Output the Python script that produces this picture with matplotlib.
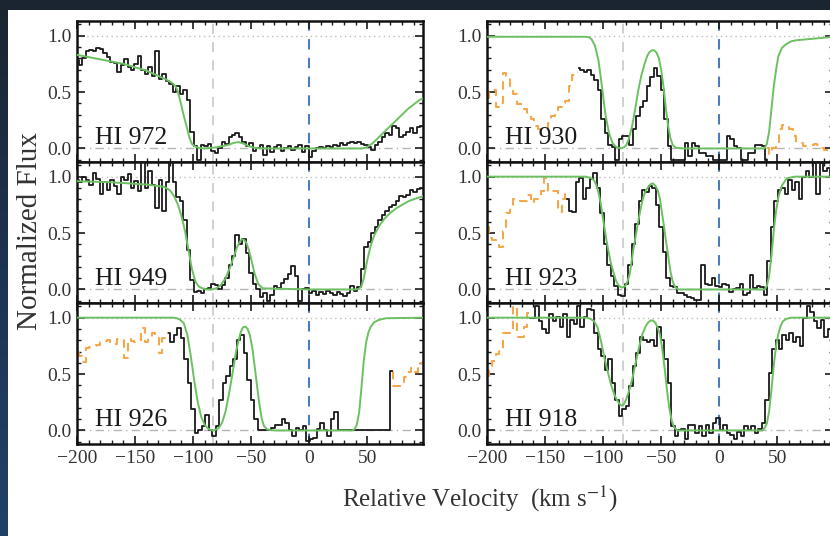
import numpy as np
import matplotlib
matplotlib.use("Agg")
import matplotlib.pyplot as plt
from matplotlib.patches import Rectangle
from matplotlib.colors import LinearSegmentedColormap
from matplotlib.ticker import MultipleLocator

plt.rcParams['font.family'] = ['Liberation Serif', 'DejaVu Serif']
plt.rcParams['mathtext.fontset'] = 'stix'

STEP = 3.0
GRAY_V = -82.5

# ---------------- panel labels ----------------
labels = ["HI 972", "HI 949", "HI 926", "HI 930", "HI 923", "HI 918"]

# ---------------- HI 972 ----------------
d1_v0 = -200
d1_f = [0.78, 0.74, 0.80, 0.86, 0.87, 0.86, 0.89, 0.88, 0.85, 0.81, 0.77, 0.76, 0.68, 0.74, 0.79,
        0.72, 0.70, 0.75, 0.82, 0.70, 0.66, 0.72, 0.64, 0.86, 0.62, 0.66, 0.60, 0.57, 0.50, 0.55,
        0.48, 0.52, 0.43, 0.15, 0.02, -0.10, 0.03, 0.02, 0.04, -0.02, -0.04, 0.00, 0.06, 0.04, 0.10,
        0.12, 0.14, 0.10, 0.06, 0.02, 0.05, -0.02, 0.00, 0.03, -0.06, 0.02, -0.03, 0.01, 0.03, -0.02,
        0.00, 0.02, -0.01, 0.01, 0.03, -0.03, 0.02, -0.08, -0.02, 0.00, 0.01, 0.00, 0.02, 0.01, 0.03,
        0.02, 0.05, 0.03, 0.05, 0.06, 0.05, 0.06, 0.04, 0.03, 0.01, -0.01, 0.03, 0.06, 0.10, 0.14,
        0.12, 0.20, 0.18, 0.10, 0.12, 0.15, 0.18, 0.14, 0.19, 0.20]
m1_v = [-200, -180, -160, -140, -123, -118, -115, -113, -111, -109, -107, -105, -103, -101, -98, -95,
        -90, -80, -70, -65, -61, -57, -52, -47, -40, 0, 45, 48, 51, 55, 60, 65, 70, 75, 80, 85, 90,
        95, 99]
m1_f = [0.83, 0.79, 0.75, 0.69, 0.61, 0.58, 0.55, 0.50, 0.42, 0.33, 0.25, 0.17, 0.09, 0.04, 0.015,
        0.005, 0.0, 0.01, 0.03, 0.05, 0.056, 0.045, 0.02, 0.005, 0.0, 0.0, 0.0, 0.004, 0.02, 0.05, 0.10,
        0.15, 0.20, 0.25, 0.30, 0.35, 0.39, 0.43, 0.45]

# ---------------- HI 949 ----------------
d2_v0 = -200
d2_f = [0.97, 0.95, 1.00, 0.97, 0.93, 1.03, 0.98, 0.85, 0.95, 0.88, 0.97, 0.92, 0.85, 1.00, 0.97,
        1.02, 0.90, 0.96, 0.87, 1.13, 0.90, 1.05, 0.93, 0.72, 0.97, 0.70, 0.95, 1.13, 0.95, 0.82,
        0.78, 0.62, 0.35, 0.08, -0.02, -0.01, -0.03, 0.00, 0.01, 0.05, 0.04, 0.00, 0.04, 0.10, 0.22,
        0.30, 0.48, 0.40, 0.45, 0.32, 0.15, 0.05, 0.00, -0.07, -0.03, -0.10, -0.05, 0.03, 0.01, 0.06,
        0.09, 0.14, 0.21, 0.12, -0.10, 0.00, 0.01, -0.03, -0.01, -0.05, -0.02, -0.04, -0.01, -0.03, -0.05,
        -0.02, -0.04, -0.06, -0.03, 0.03, -0.01, 0.02, 0.18, 0.38, 0.42, 0.50, 0.55, 0.62, 0.66, 0.70,
        0.73, 0.75, 0.78, 0.83, 0.82, 0.84, 0.88, 0.86, 0.89, 0.90]
m2_v = [-200, -170, -140, -125, -120, -116, -113, -110, -107, -104, -101, -98, -95, -92, -88, -84,
        -80, -76, -72, -68, -65, -62, -60, -58, -56, -54, -52, -50, -47, -44, -40, 0, 40, 43, 45, 47,
        50, 53, 56, 60, 65, 70, 75, 80, 85, 90, 99]
m2_f = [0.96, 0.95, 0.93, 0.91, 0.88, 0.82, 0.75, 0.65, 0.52, 0.35, 0.18, 0.07, 0.025, 0.01, 0.0,
        0.0, 0.01, 0.04, 0.10, 0.20, 0.29, 0.38, 0.42, 0.445, 0.44, 0.41, 0.35, 0.27, 0.14, 0.05, 0.01,
        0.0, 0.0, 0.005, 0.03, 0.10, 0.26, 0.39, 0.48, 0.56, 0.63, 0.68, 0.72, 0.75, 0.78, 0.80, 0.83]

# ---------------- HI 926 ----------------
d3_v0 = -121
d3_f = [0.86, 0.78, 0.85, 0.91, 0.82, 0.63, 0.42, 0.19, -0.02, 0.00, 0.04, 0.14, 0.00, -0.05, 0.04,
        0.27, 0.42, 0.48, 0.57, 0.63, 0.80, 0.85, 0.69, 0.45, 0.27, 0.10, 0.00, 0.00, 0.00, 0.00,
        0.02, 0.05, 0.05, 0.10, 0.07, 0.00, -0.05, 0.02, 0.00, 0.04, -0.09, -0.08, -0.07, 0.01, 0.07,
        0.00, -0.05, 0.10, 0.16, 0.00, 0.00, 0.00, 0.00, 0.00, 0.00, 0.00, 0.00, 0.00, 0.00, 0.00,
        0.00, 0.00, 0.00, 0.00, 0.53]
o3a_v0 = -200
o3a_f = [0.69, 0.66, 0.61, 0.73, 0.74, 0.75, 0.76, 0.78, 0.79, 0.80, 0.78, 0.77, 0.81, 0.80, 0.64,
         0.81, 0.79, 0.78, 0.80, 0.91, 0.78, 0.82, 0.86, 0.84, 0.69, 0.82, 0.86]
o3b_v0 = 71
o3b_f = [0.52, 0.39, 0.39, 0.39, 0.47, 0.52, 0.55, 0.52, 0.56, 0.60]
m3_v = [-200, -117, -114, -111, -108, -105, -102, -99, -96, -93, -90, -87, -85, -83, -81, -78, -75,
        -72, -69, -66, -63, -61, -59, -57, -55, -53, -51, -49, -47, -45, -43, -41, -39, -36, -30, 0,
        37, 39, 41, 43, 45, 47, 49, 51, 53, 56, 60, 66, 99]
m3_f = [1.0, 1.0, 0.995, 0.98, 0.95, 0.85, 0.66, 0.44, 0.25, 0.12, 0.05, 0.015, 0.005, 0.0, 0.005,
        0.02, 0.07, 0.17, 0.33, 0.51, 0.70, 0.79, 0.87, 0.915, 0.92, 0.90, 0.84, 0.73, 0.57, 0.40,
        0.24, 0.11, 0.04, 0.008, 0.0, 0.0, 0.0, 0.01, 0.05, 0.16, 0.38, 0.62, 0.78, 0.87, 0.92, 0.96,
        0.98, 0.995, 1.0]

# ---------------- HI 930 ----------------
d4_v0 = -121
d4_f = [0.71, 0.70, 0.68, 0.70, 0.65, 0.61, 0.52, 0.26, 0.14, 0.035, 0.01, -0.10, 0.08, 0.11, 0.11,
        0.03, 0.17, 0.29, 0.37, 0.42, 0.55, 0.63, 0.71, 0.64, 0.52, 0.26, 0.02, -0.10, -0.10, -0.10,
        -0.10, 0.05, -0.07, 0.05, 0.02, -0.04, -0.04, -0.07, -0.07, -0.10, -0.10, -0.10, -0.10, 0.11, 0.08,
        0.02, 0.00, -0.10, -0.10, -0.04, -0.04, 0.035, 0.035, 0.02, -0.10]
o4a_v0 = -200
o4a_f = [0.45, 0.50, 0.52, 0.37, 0.40, 0.67, 0.64, 0.55, 0.48, 0.39, 0.39, 0.35, 0.30, 0.26, 0.20,
         0.17, 0.17, 0.17, 0.23, 0.29, 0.33, 0.37, 0.40, 0.42, 0.55, 0.65, 0.68]
o4b_v0 = 41
o4b_f = [0.00, -0.05, 0.00, 0.04, 0.17, 0.21, 0.21, 0.17, 0.11, 0.05, 0.05, 0.02, 0.02, 0.03, 0.04,
         0.03, 0.00, -0.01, -0.02, 0.00]
m4_v = [-200, -115, -112, -110, -107, -104, -101, -98, -95, -92, -89, -86, -84, -82, -80, -78, -75,
        -72, -70, -67, -64, -62, -60, -58, -56, -54, -52, -50, -48, -46, -44, -42, -40, -37, -30, 0,
        39, 41, 43, 45, 47, 49, 51, 54, 57, 62, 67, 99]
m4_f = [0.99, 0.99, 0.985, 0.97, 0.91, 0.78, 0.55, 0.30, 0.14, 0.05, 0.015, 0.004, 0.003, 0.01,
        0.03, 0.08, 0.20, 0.37, 0.50, 0.65, 0.76, 0.82, 0.855, 0.87, 0.87, 0.85, 0.80, 0.70, 0.55, 0.36,
        0.20, 0.09, 0.03, 0.005, 0.0, 0.0, 0.0, 0.04, 0.15, 0.35, 0.55, 0.70, 0.82, 0.89, 0.92, 0.95,
        0.96, 0.99]

# ---------------- HI 923 ----------------
d5_v0 = -131
d5_f = [0.80, 0.70, 0.69, 0.95, 0.99, 0.80, 0.90, 0.98, 1.03, 0.90, 0.68, 0.40, 0.22, 0.12, 0.03,
        -0.05, -0.06, 0.05, 0.22, 0.40, 0.58, 0.78, 0.88, 0.86, 0.92, 0.90, 0.75, 0.55, 0.33, 0.10,
        0.03, 0.02, -0.03, -0.03, -0.05, -0.07, -0.08, -0.09, -0.09, 0.22, 0.05, 0.04, 0.10, 0.03, 0.02,
        0.05, 0.04, -0.02, 0.00, 0.01, 0.05, -0.05, -0.03, 0.13, 0.01, 0.03, 0.02, -0.05, 0.25, 0.55,
        0.78, 0.88, 0.90, 0.85, 0.97, 0.88, 0.95, 0.80, 1.00, 1.05, 1.00, 1.12, 0.85, 1.12, 1.05, 1.08,
        1.00]
o5_v0 = -200
o5_f = [0.55, 0.46, 0.44, 0.41, 0.38, 0.52, 0.68, 0.74, 0.80, 0.80, 0.78, 0.78, 0.84, 0.77, 0.80,
        0.83, 0.87, 0.99, 0.86, 0.87, 0.87, 0.69, 0.80, 0.88]
m5_v = [-200, -115, -111, -108, -106, -104, -102, -100, -97, -95, -93, -91, -89, -87, -85, -83, -81,
        -79, -77, -74, -72, -70, -67, -65, -63, -61, -59, -57, -55, -53, -51, -48, -46, -44, -42, -40,
        -38, -35, 0, 39, 41, 43, 45, 47, 49, 51, 54, 58, 65, 99]
m5_f = [1.0, 1.0, 0.99, 0.97, 0.93, 0.86, 0.76, 0.62, 0.43, 0.32, 0.22, 0.15, 0.08, 0.04, 0.022,
        0.018, 0.03, 0.07, 0.14, 0.35, 0.47, 0.59, 0.75, 0.83, 0.88, 0.91, 0.935, 0.94, 0.92, 0.88,
        0.80, 0.59, 0.44, 0.30, 0.16, 0.07, 0.02, 0.0, 0.0, 0.0, 0.03, 0.12, 0.30, 0.52, 0.70, 0.82,
        0.92, 0.985, 1.0, 1.0]

# ---------------- HI 918 ----------------
d6_v0 = -163
d6_f = [1.00, 1.00, 1.10, 0.97, 0.90, 0.86, 1.03, 0.97, 1.01, 0.92, 1.03, 0.83, 0.98, 0.94, 1.10,
        0.92, 1.01, 1.08, 1.07, 0.86, 0.72, 0.66, 0.54, 0.63, 0.42, 0.27, 0.13, 0.19, 0.22, 0.39,
        0.57, 0.69, 0.83, 0.80, 0.78, 0.80, 0.75, 0.92, 0.80, 0.63, 0.42, 0.04, -0.05, 0.00, 0.01,
        -0.08, 0.05, 0.05, -0.02, 0.04, -0.05, 0.05, -0.02, 0.07, 0.11, 0.00, 0.05, -0.02, -0.04, -0.08,
        -0.01, -0.05, 0.04, 0.00, 0.04, -0.02, 0.01, 0.07, 0.27, 0.51, 0.72, 0.80, 0.72, 0.85, 0.80,
        0.86, 0.78, 0.83, 0.75, 1.00, 1.10, 1.05, 0.97, 0.91, 0.98, 0.83, 0.90]
o6_v0 = -200
o6_f = [0.48, 0.57, 0.62, 0.68, 0.72, 0.86, 0.86, 0.88, 1.10, 0.83, 0.83, 0.92, 1.04]
m6_v = [-200, -114, -111, -108, -105, -102, -99, -96, -93, -90, -88, -86, -84, -82, -80, -78, -75,
        -72, -69, -66, -63, -61, -59, -57, -55, -53, -51, -49, -47, -45, -43, -41, -39, -36, 0, 37,
        39, 41, 43, 45, 47, 49, 51, 53, 55, 58, 62, 99]
m6_f = [1.0, 1.0, 0.99, 0.97, 0.92, 0.80, 0.65, 0.52, 0.40, 0.31, 0.27, 0.235, 0.22, 0.235, 0.28,
        0.34, 0.45, 0.60, 0.74, 0.86, 0.93, 0.96, 0.975, 0.975, 0.955, 0.91, 0.85, 0.72, 0.55, 0.36,
        0.20, 0.09, 0.03, 0.0, 0.0, 0.0, 0.02, 0.06, 0.17, 0.36, 0.58, 0.75, 0.86, 0.93, 0.97, 0.99,
        1.0, 1.0]

panels = [
    (d1_v0, d1_f, [], m1_v, m1_f),
    (d2_v0, d2_f, [], m2_v, m2_f),
    (d3_v0, d3_f, [(o3a_v0, o3a_f), (o3b_v0, o3b_f)], m3_v, m3_f),
    (d4_v0, d4_f, [(o4a_v0, o4a_f), (o4b_v0, o4b_f)], m4_v, m4_f),
    (d5_v0, d5_f, [(o5_v0, o5_f)], m5_v, m5_f),
    (d6_v0, d6_f, [(o6_v0, o6_f)], m6_v, m6_f),
]

W, H = 830, 536
fig = plt.figure(figsize=(W / 100, H / 100), dpi=100)

# dark screenshot frame + white page
bg = fig.add_axes([0, 0, 1, 1])
bg.set_zorder(-5)
cmap = LinearSegmentedColormap.from_list('frame', ['#1b2531', '#1d3352', '#204269'])
grad = np.linspace(0, 1, 256).reshape(-1, 1)
bg.imshow(grad, aspect='auto', cmap=cmap, extent=[0, 1, 0, 1], origin='upper')
bg.add_patch(Rectangle((8 / W, 0), 1, (H - 10) / H, color='white', lw=0))
bg.set_xlim(0, 1)
bg.set_ylim(0, 1)
bg.axis('off')

ax_w = 346 / W
ax_h = 141 / H
lefts = [77 / W, 487 / W]
top = (H - 21) / H

for i, (d_v0, d_f, oranges, m_v, m_f) in enumerate(panels):
    col = i // 3
    row = i % 3
    ax = fig.add_axes([lefts[col], top - (row + 1) * ax_h, ax_w, ax_h])
    ax.set_xlim(-200, 98)
    ax.set_ylim(-0.12, 1.13)

    ax.axhline(1.0, color='#bdbdbd', lw=1.0, ls=(0, (1, 2.5)), zorder=1)
    ax.axhline(0.0, color='#b5b5b5', lw=1.0, ls=(0, (6, 3, 1, 3)), zorder=1)
    ax.axvline(GRAY_V, color='#c8c8c8', lw=1.2, ls=(0, (6, 5)), zorder=1)
    ax.axvline(0, color='#4c7db8', lw=1.5, ls=(0, (5, 4)), zorder=1)

    for o_v0, o_f in oranges:
        ov = o_v0 + STEP * np.arange(len(o_f))
        ax.plot(ov, o_f, drawstyle='steps-mid', color='#f4a84c', lw=1.5,
                ls=(0, (4, 3)), zorder=2)

    dv = d_v0 + STEP * np.arange(len(d_f))
    ax.plot(dv, d_f, drawstyle='steps-mid', color='#1a1a1a', lw=1.3, zorder=3)
    ax.plot(m_v, m_f, color='#6cc062', lw=1.4, zorder=4, solid_joinstyle='round')

    ax.text(18 / 346, 0.128, labels[i], transform=ax.transAxes, fontsize=18.5,
            color='#1a1a1a', ha='left', va='baseline')

    ax.xaxis.set_major_locator(MultipleLocator(50))
    ax.xaxis.set_minor_locator(MultipleLocator(10))
    ax.yaxis.set_major_locator(MultipleLocator(0.5))
    ax.yaxis.set_minor_locator(MultipleLocator(0.1))
    ax.tick_params(which='both', direction='in', top=True, right=True, colors='#1a1a1a',
                   labelcolor='#333333', labelsize=14)
    ax.tick_params(which='major', length=6, width=1.2, pad=4)
    ax.tick_params(which='minor', length=3, width=1.0)
    ax.yaxis.set_major_formatter(matplotlib.ticker.FormatStrFormatter('%.1f'))
    ax.xaxis.set_major_formatter(matplotlib.ticker.FuncFormatter(
        lambda x, p: ('\u2212%d' % abs(x)) if x < 0 else '%d' % x))
    for s in ax.spines.values():
        s.set_linewidth(1.8)
        s.set_color('#111111')
    if row != 2:
        ax.tick_params(labelbottom=False)

fig.text(30 / W, (H - 231) / H, 'Normalized Flux', rotation=90, ha='center', va='center',
         fontsize=21, color='#333333')
fig.text(480 / W, (H - 499) / H, 'Relative Velocity  (km s$^{-1}$)', ha='center', va='center',
         fontsize=18, color='#333333')

fig.savefig('out.png', dpi=100)
